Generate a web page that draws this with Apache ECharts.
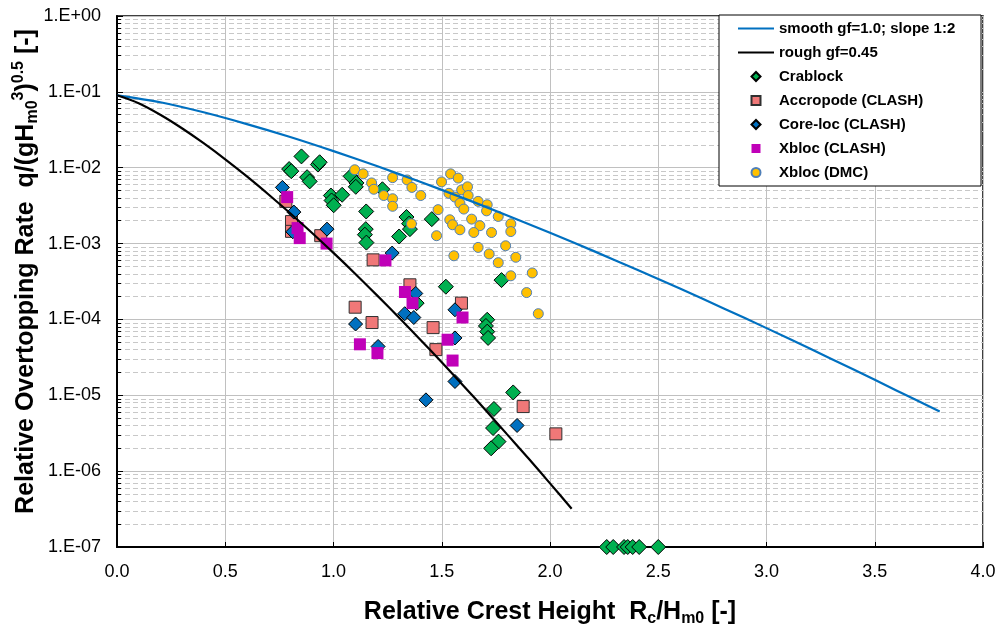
<!DOCTYPE html>
<html>
<head>
<meta charset="utf-8">
<script src="https://cdn.jsdelivr.net/npm/echarts@6/dist/echarts.min.js"></script>
<style>html,body{margin:0;padding:0;background:#fff}#c{width:999px;height:632px}</style>
</head>
<body>
<div id="c"></div>
<script>
// ---- data ----
var smoothX = [0,0.2,0.4,0.6,0.8,1.0,1.2,1.4,1.6,1.8,2.0,2.2,2.4,2.6,2.8,3.0,3.2,3.4,3.6,3.8];
var smoothY = [0.09,0.073,0.0538,0.0376,0.0254,0.01654,0.01051,0.00653,0.00397,0.002367,0.00139,0.000801,0.000455,0.000255,0.0001407,7.68e-5,4.13e-5,2.2e-5,1.16e-5,6.1e-6];
var roughX = [0,0.1,0.2,0.3,0.4,0.5,0.6,0.7,0.8,0.9,1.0,1.1,1.2,1.3,1.4,1.5,1.6,1.7,1.8,1.9,2.0,2.1];
var roughY = [0.09,0.0708,0.0499,0.0331,0.02103,0.0129,0.00768,0.00444,0.00251,0.00139,0.000753,0.000401,0.000209,0.0001076,5.45e-5,2.72e-5,1.34e-5,6.5e-6,3.1e-6,1.48e-6,6.9e-7,3.2e-7];

var crabX = [0.852,0.795,0.805,0.928,0.936,0.878,0.890,0.988,1.040,0.991,1.001,1.079,1.106,1.103,1.226,1.151,1.149,1.145,1.152,1.337,1.349,1.353,1.303,1.454,1.519,1.384,1.776,1.710,1.704,1.710,1.714,1.830,1.741,1.737,1.762,1.728,2.262,2.292,2.342,2.359,2.382,2.412,2.500];
var crabY = [1.41e-2,9.6e-3,9.0e-3,1.1e-2,1.18e-2,7.5e-3,6.6e-3,4.3e-3,4.4e-3,3.7e-3,3.2e-3,7.7e-3,6.3e-3,5.6e-3,5.2e-3,2.65e-3,1.55e-3,1.31e-3,1.03e-3,2.24e-3,1.83e-3,1.55e-3,1.24e-3,2.1e-3,2.7e-4,1.64e-4,3.3e-4,9.9e-5,8.2e-5,6.9e-5,5.7e-5,1.09e-5,6.6e-6,3.7e-6,2.45e-6,2.0e-6,1e-7,1e-7,1e-7,1e-7,1e-7,1e-7,1e-7];

var accrX = [0.780,0.806,0.806,0.941,1.183,1.353,1.100,1.178,1.460,1.473,1.591,1.876,2.027];
var accrY = [3.6e-3,1.95e-3,1.45e-3,1.27e-3,6.1e-4,2.86e-4,1.45e-4,9.1e-5,7.8e-5,4.0e-5,1.64e-4,7.1e-6,3.1e-6];

var corelocX = [0.764,0.817,0.812,0.970,1.271,1.380,1.561,1.329,1.371,1.102,1.206,1.427,1.561,1.561,1.848];
var corelocY = [5.5e-3,2.6e-3,1.43e-3,1.55e-3,7.5e-4,2.2e-4,1.34e-4,1.19e-4,1.06e-4,8.7e-5,4.4e-5,8.7e-6,5.7e-5,1.52e-5,4.0e-6];

var xblocClashX = [0.786,0.834,0.844,0.968,1.240,1.330,1.365,1.596,1.122,1.203,1.527,1.550];
var xblocClashY = [4.1e-3,1.6e-3,1.18e-3,1.0e-3,6.0e-4,2.3e-4,1.64e-4,1.06e-4,4.7e-5,3.6e-5,5.4e-5,2.87e-5];

var xblocDmcX = [1.098,1.137,1.176,1.186,1.232,1.273,1.273,1.273,1.340,1.362,1.403,1.499,1.483,1.476,1.360,1.541,1.576,1.533,1.561,1.592,1.619,1.622,1.584,1.602,1.668,1.710,1.707,1.761,1.819,1.819,1.537,1.550,1.584,1.638,1.676,1.648,1.730,1.795,1.668,1.719,1.842,1.556,1.761,1.819,1.918,1.892,1.946];
var xblocDmcY = [9.4e-3,8.3e-3,6.3e-3,5.2e-3,4.3e-3,7.4e-3,3.9e-3,3.1e-3,6.9e-3,5.5e-3,4.3e-3,6.5e-3,2.8e-3,1.27e-3,1.82e-3,8.3e-3,7.3e-3,4.6e-3,4.1e-3,5.1e-3,5.6e-3,4.3e-3,3.4e-3,2.85e-3,3.6e-3,3.25e-3,2.7e-3,2.28e-3,1.82e-3,1.44e-3,2.06e-3,1.77e-3,1.52e-3,2.1e-3,1.72e-3,1.4e-3,1.4e-3,9.35e-4,8.9e-4,7.3e-4,6.6e-4,6.9e-4,5.6e-4,3.76e-4,4.1e-4,2.26e-4,1.19e-4];

var seriesNames = ['smooth gf=1.0; slope 1:2','rough gf=0.45','Crablock','Accropode (CLASH)','Core-loc (CLASH)','Xbloc (CLASH)','Xbloc (DMC)'];

function zip(a, b) { return a.map(function (v, i) { return [v, b[i]]; }); }

var FONT = "'Liberation Sans', Arial, sans-serif";
var diamond = 'path://M0,-1L1,0L0,1L-1,0Z';
var square = 'path://M0,0L1,0L1,1L0,1Z';
var lineIcon = 'path://M0,0L36,0L36,2L0,2Z';

var chart = echarts.init(document.getElementById('c'), null, {renderer: 'canvas'});
chart.setOption({
  animation: false,
  backgroundColor: '#fff',
  textStyle: {fontFamily: FONT},
  grid: {left: 117, right: 16, top: 16, bottom: 85, outerBoundsMode: 'none', containLabel: false,
    show: true, borderColor: '#000', borderWidth: 1.5, backgroundColor: 'transparent'},
  graphic: [{
    type: 'rect', z: 3, silent: true,
    shape: {x: 719, y: 15, width: 262, height: 171},
    style: {fill: '#fff', stroke: '#000', lineWidth: 1}
  }],
  legend: {
    orient: 'vertical', left: 733, top: 16, z: 5,
    itemWidth: 36, itemHeight: 9, itemGap: 9,
    textStyle: {fontFamily: FONT, fontWeight: 'bold', fontSize: 15, color: '#000'},
    data: [
      {name: seriesNames[0], icon: lineIcon},
      {name: seriesNames[1], icon: lineIcon},
      {name: seriesNames[2], icon: diamond},
      {name: seriesNames[3], icon: square},
      {name: seriesNames[4], icon: diamond},
      {name: seriesNames[5], icon: square},
      {name: seriesNames[6], icon: 'circle'}
    ]
  },
  xAxis: {
    type: 'value', min: 0, max: 4, interval: 0.5,
    axisLine: {onZero: false, lineStyle: {color: '#000', width: 2}},
    axisTick: {inside: true, length: 5, lineStyle: {color: '#000'}},
    axisLabel: {fontFamily: FONT, fontSize: 18, color: '#000', margin: 16, formatter: function (v) { return v.toFixed(1); }},
    splitLine: {show: true, lineStyle: {color: '#c0c0c0', width: 1}},
    name: 'Relative Crest Height  R{sub|c}/H{sub|m0} [-]',
    nameLocation: 'middle', nameGap: 50, nameMoveOverlap: false,
    nameTextStyle: {fontFamily: FONT, fontWeight: 'bold', fontSize: 25, color: '#000', lineHeight: 30,
      rich: {sub: {fontFamily: FONT, fontWeight: 'bold', fontSize: 16, lineHeight: 16, verticalAlign: 'bottom', color: '#000'}}}
  },
  yAxis: {
    type: 'log', logBase: 10, min: 1e-7, max: 1,
    axisLine: {onZero: false, lineStyle: {color: '#000', width: 2}},
    axisTick: {inside: true, length: 6, lineStyle: {color: '#000'}},
    minorTick: {show: true, splitNumber: 9, length: 4, lineStyle: {color: '#000'}},
    minorSplitLine: {show: true, lineStyle: {color: '#c8c8c8', type: [5, 3], width: 1}},
    axisLabel: {fontFamily: FONT, fontSize: 18, color: '#000', margin: 16,
      formatter: function (v) { var e = Math.round(Math.log10(v)); return '1.E' + (e < 0 ? '-' : '+') + String(Math.abs(e)).padStart(2, '0'); }},
    splitLine: {show: true, lineStyle: {color: '#c0c0c0', width: 1}},
    name: 'Relative Overtopping Rate  q/(gH{sub|m0}{sup|3}){sup|0.5} [-]',
    nameLocation: 'middle', nameGap: 76, nameRotate: 90, nameMoveOverlap: false,
    nameTextStyle: {fontFamily: FONT, fontWeight: 'bold', fontSize: 25, color: '#000', lineHeight: 30,
      padding: [0, 0, 0, 20],
      rich: {
        sub: {fontFamily: FONT, fontWeight: 'bold', fontSize: 16, lineHeight: 16, verticalAlign: 'bottom', color: '#000'},
        sup: {fontFamily: FONT, fontWeight: 'bold', fontSize: 16, lineHeight: 16, verticalAlign: 'top', color: '#000'}
      }}
  },
  series: [
    {name: seriesNames[0], type: 'line', data: zip(smoothX, smoothY), symbol: 'none', smooth: 0.3, z: 4,
      lineStyle: {color: '#0070c0', width: 2.2}, itemStyle: {color: '#0070c0'}},
    {name: seriesNames[1], type: 'line', data: zip(roughX, roughY), symbol: 'none', smooth: 0.3, z: 4,
      lineStyle: {color: '#000', width: 2.2}, itemStyle: {color: '#000'}},
    {name: seriesNames[2], type: 'scatter', data: zip(crabX, crabY), symbol: 'diamond', symbolSize: 15, z: 2,
      itemStyle: {color: '#00b050', borderColor: '#000', borderWidth: 1, opacity: 1}},
    {name: seriesNames[3], type: 'scatter', data: zip(accrX, accrY), symbol: 'rect', symbolSize: 12, z: 2,
      itemStyle: {color: '#f07878', borderColor: '#303030', borderWidth: 1, opacity: 1}},
    {name: seriesNames[4], type: 'scatter', data: zip(corelocX, corelocY), symbol: 'diamond', symbolSize: 14, z: 2,
      itemStyle: {color: '#0070c0', borderColor: '#000', borderWidth: 1, opacity: 1}},
    {name: seriesNames[5], type: 'scatter', data: zip(xblocClashX, xblocClashY), symbol: 'rect', symbolSize: 12, z: 2,
      itemStyle: {color: '#c000b8', opacity: 1}},
    {name: seriesNames[6], type: 'scatter', data: zip(xblocDmcX, xblocDmcY), symbol: 'circle', symbolSize: 10, z: 2,
      itemStyle: {color: '#ffc000', borderColor: '#4f7fb8', borderWidth: 1, opacity: 1}}
  ]
});
</script>
</body>
</html>
